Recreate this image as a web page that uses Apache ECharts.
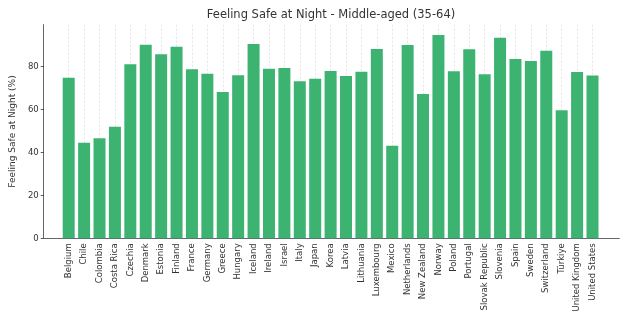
<!DOCTYPE html>
<html>
<head>
<meta charset="utf-8">
<script src="https://cdn.jsdelivr.net/npm/echarts@6/dist/echarts.min.js"></script>
<style>
  html, body { margin: 0; padding: 0; background: #ffffff; }
  #chart { width: 638px; height: 328px; }
</style>
</head>
<body>
<div id="chart"></div>
<script>
// Countries in alphabetical order
const countries = [
  'Belgium', 'Chile', 'Colombia', 'Costa Rica', 'Czechia', 'Denmark', 'Estonia',
  'Finland', 'France', 'Germany', 'Greece', 'Hungary', 'Iceland', 'Ireland',
  'Israel', 'Italy', 'Japan', 'Korea', 'Latvia', 'Lithuania', 'Luxembourg',
  'Mexico', 'Netherlands', 'New Zealand', 'Norway', 'Poland', 'Portugal',
  'Slovak Republic', 'Slovenia', 'Spain', 'Sweden', 'Switzerland', 'Türkiye',
  'United Kingdom', 'United States'
];

// Share of people aged 35-64 who feel safe walking alone at night (%)
const safeAtNight = [
  74.9, 44.6, 46.6, 52.0, 81.1, 90.3, 85.8,
  89.3, 78.8, 76.7, 68.2, 76.0, 90.6, 79.1,
  79.4, 73.2, 74.4, 78.0, 75.7, 77.7, 88.3,
  43.2, 90.1, 67.3, 94.8, 77.9, 88.1,
  76.5, 93.5, 83.6, 82.7, 87.5, 59.7,
  77.6, 75.9
];

const yTicks = [0, 20, 40, 60, 80];
const yMax = 99.6;

const FONT = 'DejaVu Sans';
const chart = echarts.init(document.getElementById('chart'), null, { renderer: 'canvas' });

chart.setOption({
  animation: false,
  backgroundColor: '#ffffff',
  title: {
    text: 'Feeling Safe at Night - Middle-aged (35-64)',
    left: 331,
    textAlign: 'center',
    top: 9,
    padding: 0,
    textStyle: { fontFamily: FONT, fontSize: 11.5, fontWeight: 'normal', color: '#333333' }
  },
  grid: [
    // bar area: category centres span the first to last bar
    { left: 68.7, right: 45.5, top: 24.7, bottom: 89.7, containLabel: false },
    // frame area carrying the spines and the y scale
    { left: 35.7, right: 18.7, top: 24.7, bottom: 89.7, containLabel: false }
  ],
  xAxis: [
    {
      type: 'category',
      gridIndex: 0,
      data: countries,
      boundaryGap: false,
      axisLine: { show: false },
      axisTick: { show: true, inside: true, length: 3, lineStyle: { color: '#333333', width: 0.8 } },
      axisLabel: {
        rotate: 90, interval: 0, margin: 5,
        fontFamily: FONT, fontSize: 8.5, color: '#333333'
      },
      splitLine: { show: true, lineStyle: { color: '#d9d9d9', width: 0.7, type: [2, 2] } }
    },
    {
      type: 'value',
      gridIndex: 1,
      min: 0, max: 1,
      axisLine: { show: true, lineStyle: { color: '#666666', width: 1 } },
      axisTick: { show: false },
      axisLabel: { show: false },
      splitLine: { show: false }
    }
  ],
  yAxis: [
    { type: 'value', gridIndex: 0, min: 0, max: yMax, show: false, splitLine: { show: false } },
    {
      type: 'value',
      gridIndex: 1,
      min: 0, max: yMax,
      name: 'Feeling Safe at Night (%)',
      nameLocation: 'middle',
      nameGap: 18,
      nameTextStyle: { fontFamily: FONT, fontSize: 9, color: '#333333' },
      axisLine: { show: true, lineStyle: { color: '#666666', width: 1 } },
      axisTick: { show: true, length: 3, customValues: yTicks, lineStyle: { color: '#333333', width: 0.8 } },
      axisLabel: { customValues: yTicks, margin: 5, fontFamily: FONT, fontSize: 8.5, color: '#333333' },
      splitLine: { show: false }
    }
  ],
  series: [
    {
      type: 'bar',
      xAxisIndex: 0,
      yAxisIndex: 0,
      data: safeAtNight,
      barWidth: 12,
      clip: false,
      itemStyle: { color: '#3cb371' }
    }
  ]
});
</script>
</body>
</html>
